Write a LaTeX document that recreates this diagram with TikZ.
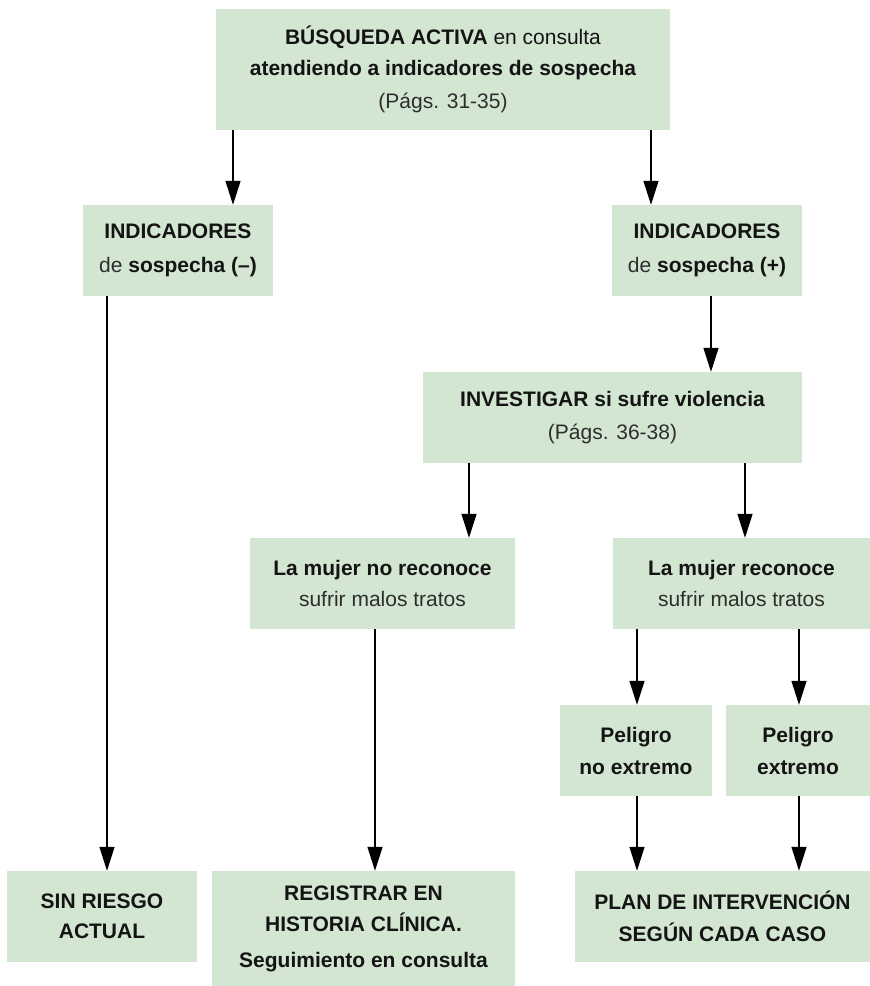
\documentclass[tikz,border=0pt]{standalone}
\usepackage{fontspec}
\setmainfont{Liberation Sans}
\usetikzlibrary{arrows.meta}
\definecolor{boxgreen}{RGB}{211,230,209}
\definecolor{txt}{RGB}{20,20,20}
\definecolor{lighttxt}{RGB}{45,45,45}
\tikzset{
  flowbox/.style={fill=boxgreen, draw=none, inner sep=0pt, align=center, text=txt,
    font=\fontsize{21}{32}\selectfont},
  arr/.style={draw=black, line width=1.4pt, -{Triangle[length=24pt,width=15pt]}}
}
\newcommand{\lt}[1]{{\color{lighttxt}#1}}
\begin{document}
\begin{tikzpicture}[x=1pt,y=-1pt]
\useasboundingbox (0,0) rectangle (870,986);
\node[flowbox, minimum width=454pt, minimum height=121pt] (top) at (443,69.5)
  {\bfseries BÚSQUEDA ACTIVA \mdseries en consulta\\[-1pt]
   \bfseries atendiendo a indicadores de sospecha\\[1pt]
   \lt{(Págs. 31-35)}};
\node[flowbox, minimum width=190pt, minimum height=91pt] (neg) at (178,250.5)
  {\bfseries INDICADORES\\[2pt] \lt{de} \bfseries sospecha (–)};
\node[flowbox, minimum width=190pt, minimum height=91pt] (pos) at (707,250.5)
  {\bfseries INDICADORES\\[2pt] \lt{de} \bfseries sospecha (+)};
\node[flowbox, minimum width=379pt, minimum height=91pt] (inv) at (612.5,417.5)
  {\bfseries INVESTIGAR si sufre violencia\\[1pt] \lt{(Págs. 36-38)}};
\node[flowbox, minimum width=265pt, minimum height=91pt] (nore) at (382.5,583.5)
  {\bfseries La mujer no reconoce\\[-1pt] \lt{sufrir malos tratos}};
\node[flowbox, minimum width=257pt, minimum height=91pt] (re) at (741.5,583.5)
  {\bfseries La mujer reconoce\\[-1pt] \lt{sufrir malos tratos}};
\node[flowbox, minimum width=152pt, minimum height=91pt] (pne) at (636,750.5)
  {\bfseries Peligro\\ \bfseries no extremo};
\node[flowbox, minimum width=144pt, minimum height=91pt] (pe) at (798,750.5)
  {\bfseries Peligro\\ \bfseries extremo};
\node[flowbox, minimum width=190pt, minimum height=91pt] (sin) at (102,916.5)
  {\bfseries SIN RIESGO\\[-2pt] \bfseries ACTUAL};
\node[flowbox, minimum width=303pt, minimum height=115pt] (reg) at (363.5,928.5)
  {\bfseries REGISTRAR EN\\[-1pt] \bfseries HISTORIA CLÍNICA.\\[4pt] \bfseries Seguimiento en consulta};
\node[flowbox, minimum width=295pt, minimum height=91pt] (plan) at (722.5,916.5)
  {\bfseries PLAN DE INTERVENCIÓN\\ \bfseries SEGÚN CADA CASO};

\draw[arr] (top.south -| 233,0) -- (neg.north -| 233,0);
\draw[arr] (top.south -| 651,0) -- (pos.north -| 651,0);
\draw[arr] (pos.south -| 711,0) -- (inv.north -| 711,0);
\draw[arr] (inv.south -| 469,0) -- (nore.north -| 469,0);
\draw[arr] (inv.south -| 745,0) -- (re.north -| 745,0);
\draw[arr] (neg.south -| 107,0) -- (sin.north -| 107,0);
\draw[arr] (nore.south -| 375,0) -- (reg.north -| 375,0);
\draw[arr] (re.south -| 637,0) -- (pne.north -| 637,0);
\draw[arr] (re.south -| 799,0) -- (pe.north -| 799,0);
\draw[arr] (pne.south -| 637,0) -- (plan.north -| 637,0);
\draw[arr] (pe.south -| 799,0) -- (plan.north -| 799,0);
\end{tikzpicture}
\end{document}
